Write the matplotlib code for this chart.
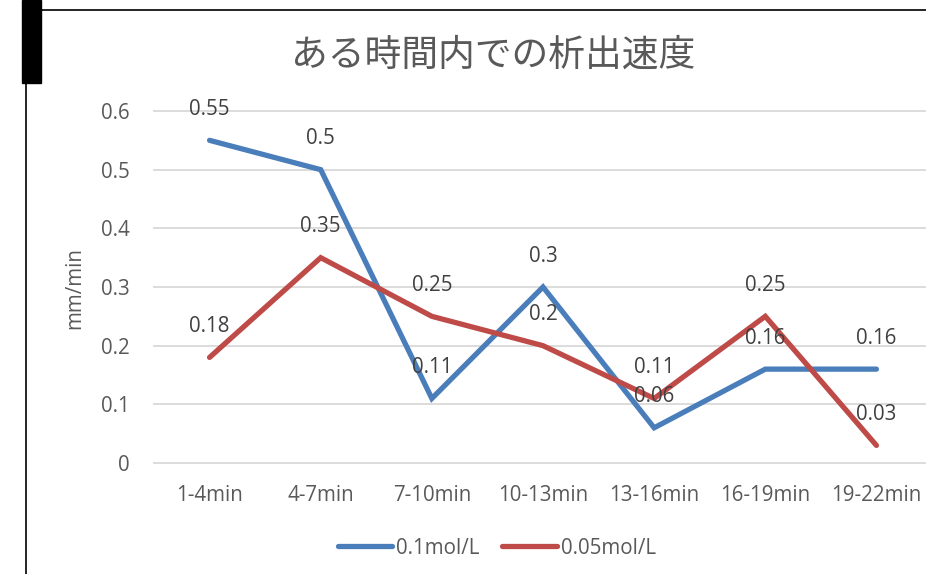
import matplotlib
matplotlib.use("Agg")
import matplotlib.pyplot as plt
from matplotlib.lines import Line2D
from matplotlib.patches import Rectangle

categories = ['1-4min', '4-7min', '7-10min', '10-13min', '13-16min', '16-19min', '19-22min']
series_a = [0.55, 0.5, 0.11, 0.3, 0.06, 0.16, 0.16]
series_b = [0.18, 0.35, 0.25, 0.2, 0.11, 0.25, 0.03]
label_a = '0.1mol/L'
label_b = '0.05mol/L'
title = 'ある時間内での析出速度'
ylabel = 'mm/min'
yticks = [0, 0.1, 0.2, 0.3, 0.4, 0.5, 0.6]

plt.rcParams['font.family'] = ['Open Sans', 'Noto Sans CJK JP', 'DejaVu Sans']
txt = '#595959'
blue = '#4a7ebb'
red = '#be4b48'
fs = 14.8

fig = plt.figure(figsize=(9.26, 5.74), dpi=100)
ax = fig.add_axes([154 / 926, 1 - 463 / 574, 778 / 926, 352 / 574])

x = list(range(len(categories)))
ax.plot(x, series_a, color=blue, lw=3.8, solid_capstyle='round', solid_joinstyle='miter', zorder=3)
ax.plot(x, series_b, color=red, lw=3.8, solid_capstyle='round', solid_joinstyle='miter', zorder=3)
for xi, v in zip(x, series_a):
    ax.annotate(f'{v:g}', (xi, v), xytext=(0, 31), textcoords='offset pixels',
                ha='center', va='center', fontsize=fs, color='#404040', zorder=5)
for xi, v in zip(x, series_b):
    ax.annotate(f'{v:g}', (xi, v), xytext=(0, 31), textcoords='offset pixels',
                ha='center', va='center', fontsize=fs, color='#404040', zorder=5)

ax.set_xlim(-0.5, len(categories) - 0.5)
ax.set_ylim(0, 0.6)
ax.set_yticks(yticks)
ax.set_yticklabels([f'{t:g}' for t in yticks])
ax.set_xticks(x)
ax.set_xticklabels(categories)
ax.tick_params(axis='both', length=0, labelsize=fs, labelcolor=txt)
ax.tick_params(axis='y', pad=17.5)
ax.tick_params(axis='x', pad=16)
ax.yaxis.grid(True, color='#d9d9d9', lw=1.3, clip_on=False)
ax.set_axisbelow(True)
for s in ax.spines.values():
    s.set_visible(False)
ax.set_ylabel(ylabel, fontsize=fs, color=txt, va='center')
ax.yaxis.set_label_coords((75 - 154) / 778, (463 - 288) / 352)

fig.text(493 / 926, 1 - 55 / 574, title, ha='center', va='center', fontsize=26.5,
         color=txt, family=['Noto Sans CJK JP', 'DejaVu Sans'])

handles = [Line2D([], [], color=blue, lw=3.8, solid_capstyle='round'),
           Line2D([], [], color=red, lw=3.8, solid_capstyle='round')]
fig.legend(handles, [label_a, label_b], loc='center', bbox_to_anchor=(497 / 926, 1 - 548 / 574),
           ncol=2, frameon=False, fontsize=fs, labelcolor=txt, handlelength=2.65,
           handletextpad=0.2, columnspacing=1.1, borderpad=0)

# frame remnants around the picture
fig.add_artist(Rectangle((22 / 926, 1 - 83 / 574), 19 / 926, 83 / 574, transform=fig.transFigure,
                         color='black', zorder=10))
fig.add_artist(Line2D([25.5 / 926, 25.5 / 926], [0, 1 - 83 / 574], transform=fig.transFigure,
                      color='black', lw=1.2))
fig.add_artist(Line2D([41 / 926, 1], [1 - 9.5 / 574, 1 - 9.5 / 574], transform=fig.transFigure,
                      color='black', lw=1.2))

fig.savefig('out.png', dpi=100)
